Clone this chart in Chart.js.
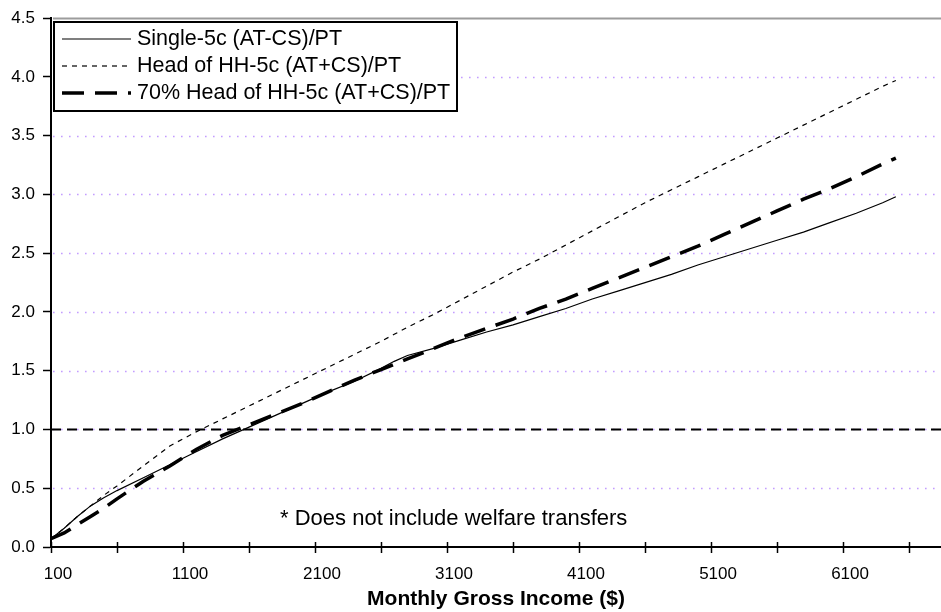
<!DOCTYPE html>
<html lang="en">
<head>
<meta charset="UTF-8">
<title>Tax ratio by monthly gross income</title>
<script src="https://cdn.jsdelivr.net/npm/chart.js@4.4.1/dist/chart.umd.min.js"></script>
<style>
  body { margin: 0; background: #fff; }
  #chart { display: block; }
</style>
</head>
<body>
<canvas id="chart" width="941" height="612"></canvas>
<script>
// monthly gross income ($) at each sampled point
const incomes = [100, 200, 300, 400, 500, 600, 800, 1000, 1200, 1400, 1600, 1800, 2000, 2200, 2400,
  2600, 2700, 2800, 3000, 3200, 3400, 3600, 3800, 4000, 4200, 4400, 4600, 4800, 5000, 5200, 5400,
  5600, 5800, 6000, 6200, 6400, 6500];

// (AT-CS)/PT ratio, single filer
const single = [0.07, 0.16, 0.26, 0.35, 0.42, 0.48, 0.59, 0.70, 0.81, 0.92, 1.02, 1.12, 1.22, 1.32, 1.41,
  1.52, 1.58, 1.63, 1.69, 1.76, 1.83, 1.89, 1.96, 2.03, 2.11, 2.18, 2.25, 2.32, 2.40, 2.47, 2.54,
  2.61, 2.68, 2.76, 2.84, 2.93, 2.98];

// (AT+CS)/PT ratio, head of household
const headHH = [0.07, 0.16, 0.26, 0.35, 0.44, 0.52, 0.69, 0.86, 0.98, 1.09, 1.20, 1.31, 1.42, 1.53, 1.64,
  1.75, 1.81, 1.87, 1.98, 2.10, 2.22, 2.34, 2.45, 2.57, 2.69, 2.81, 2.93, 3.04, 3.15, 3.26, 3.37,
  3.48, 3.59, 3.70, 3.81, 3.92, 3.97];

// (AT+CS)/PT ratio, head of household at 70%
const headHH70 = [0.07, 0.12, 0.19, 0.26, 0.33, 0.41, 0.56, 0.69, 0.83, 0.95, 1.04, 1.13, 1.22, 1.32, 1.42,
  1.51, 1.555, 1.60, 1.69, 1.78, 1.86, 1.94, 2.03, 2.11, 2.20, 2.29, 2.38, 2.47, 2.56, 2.66, 2.76,
  2.86, 2.96, 3.05, 3.15, 3.26, 3.31];

const seriesNames = ['Single-5c (AT-CS)/PT', 'Head of HH-5c (AT+CS)/PT', '70% Head of HH-5c (AT+CS)/PT'];

const breakEven = 1.0;
const xMin = 100;
const xMax = 6842;
const xTickValues = [100, 600, 1100, 1600, 2100, 2600, 3100, 3600, 4100, 4600, 5100, 5600, 6100, 6600];
const xLabels = [100, 1100, 2100, 3100, 4100, 5100, 6100];
const yTickValues = [0, 0.5, 1, 1.5, 2, 2.5, 3, 3.5, 4, 4.5];

const note = { text: '* Does not include welfare transfers', x: 1835, y: 0.24 };

const FONT = "'Liberation Sans', Arial, sans-serif";

const points = vals => vals.map((v, i) => ({ x: incomes[i], y: v }));

// background, dotted gridlines, legend box, footnote, upper half of x ticks
const chartDecor = {
  id: 'chartDecor',
  beforeDraw(chart) {
    const { ctx, width, height } = chart;
    ctx.save();
    ctx.fillStyle = '#fff';
    ctx.fillRect(0, 0, width, height);
    ctx.restore();
  },
  beforeDatasetsDraw(chart) {
    const { ctx, chartArea: a, scales: { y } } = chart;
    ctx.save();
    y.ticks.forEach(t => {
      if (t.value <= 0) return;
      const py = Math.round(y.getPixelForValue(t.value)) + 0.5;
      ctx.beginPath();
      if (t.value >= y.max) {
        ctx.strokeStyle = '#9c9c9c';
        ctx.lineWidth = 2;
        ctx.setLineDash([]);
      } else {
        ctx.strokeStyle = '#c39dff';
        ctx.lineWidth = 1.6;
        ctx.setLineDash([1.6, 6.4]);
      }
      ctx.moveTo(a.left + 2, py);
      ctx.lineTo(a.right, py);
      ctx.stroke();
    });
    ctx.restore();
  },
  afterDraw(chart) {
    const { ctx, chartArea: a, scales: { x, y } } = chart;
    ctx.save();

    // x ticks cross the axis line
    ctx.strokeStyle = '#000';
    ctx.lineWidth = 1.5;
    x.ticks.forEach(t => {
      const px = Math.round(x.getPixelForValue(t.value)) + 0.5;
      ctx.beginPath();
      ctx.moveTo(px, a.bottom - 5);
      ctx.lineTo(px, a.bottom);
      ctx.stroke();
    });

    // footnote
    ctx.fillStyle = '#000';
    ctx.font = '22px ' + FONT;
    ctx.textAlign = 'left';
    ctx.textBaseline = 'middle';
    ctx.fillText(note.text, x.getPixelForValue(note.x), y.getPixelForValue(note.y));

    // legend
    const box = { left: 54, top: 22, right: 457, bottom: 111 };
    ctx.fillStyle = '#fff';
    ctx.fillRect(box.left, box.top, box.right - box.left, box.bottom - box.top);
    ctx.strokeStyle = '#000';
    ctx.lineWidth = 2;
    ctx.strokeRect(box.left, box.top, box.right - box.left, box.bottom - box.top);

    const rows = [39, 66, 93];
    ctx.font = '21.5px ' + FONT;
    chart.data.datasets.filter(ds => ds.label).forEach((ds, i) => {
      const ry = rows[i];
      ctx.beginPath();
      ctx.strokeStyle = ds.borderColor;
      ctx.lineWidth = ds.borderWidth;
      ctx.setLineDash(ds.borderDash || []);
      ctx.moveTo(62, ry);
      ctx.lineTo(131, ry);
      ctx.stroke();
      ctx.setLineDash([]);
      ctx.fillStyle = '#000';
      ctx.fillText(ds.label, 137, ry);
    });
    ctx.restore();
  }
};

new Chart(document.getElementById('chart'), {
  type: 'line',
  data: {
    datasets: [
      {
        label: seriesNames[0],
        data: points(single),
        borderColor: '#000',
        borderWidth: 1.2,
        borderDash: []
      },
      {
        label: seriesNames[1],
        data: points(headHH),
        borderColor: '#000',
        borderWidth: 1.2,
        borderDash: [5, 5]
      },
      {
        label: seriesNames[2],
        data: points(headHH70),
        borderColor: '#000',
        borderWidth: 3.5,
        borderDash: [22, 11]
      },
      {
        // break-even reference level
        data: [{ x: xMin, y: breakEven }, { x: xMax, y: breakEven }],
        borderColor: '#000',
        borderWidth: 2,
        borderDash: [10, 6]
      }
    ]
  },
  options: {
    responsive: false,
    animation: false,
    devicePixelRatio: 1,
    layout: { padding: { top: 16, right: 0, bottom: 0, left: 0 } },
    elements: { point: { radius: 0 }, line: { tension: 0, fill: false } },
    plugins: {
      legend: { display: false },
      tooltip: { enabled: false }
    },
    scales: {
      x: {
        type: 'linear',
        min: xMin,
        max: xMax,
        afterBuildTicks: s => { s.ticks = xTickValues.map(v => ({ value: v })); },
        afterFit: s => { s.height = 65; },
        grid: { drawOnChartArea: false, drawTicks: true, tickLength: 6, tickColor: '#000', tickWidth: 1.5 },
        border: { display: true, color: '#000', width: 2 },
        ticks: {
          autoSkip: false,
          maxRotation: 0,
          padding: 11,
          labelOffset: 7,
          color: '#000',
          font: { family: FONT, size: 17 },
          callback: v => xLabels.includes(v) ? String(v) : ''
        },
        title: {
          display: true,
          text: 'Monthly Gross Income ($)',
          color: '#000',
          font: { family: FONT, size: 21, weight: 'bold' },
          padding: 0
        }
      },
      y: {
        min: 0,
        max: 4.5,
        afterBuildTicks: s => { s.ticks = yTickValues.map(v => ({ value: v })); },
        afterFit: s => { s.width = 51; },
        grid: { drawOnChartArea: false, drawTicks: true, tickLength: 8, tickColor: '#000', tickWidth: 1.5 },
        border: { display: true, color: '#000', width: 2 },
        ticks: {
          padding: 8,
          color: '#000',
          font: { family: FONT, size: 17 },
          callback: v => v.toFixed(1)
        }
      }
    }
  },
  plugins: [chartDecor]
});
</script>
</body>
</html>
